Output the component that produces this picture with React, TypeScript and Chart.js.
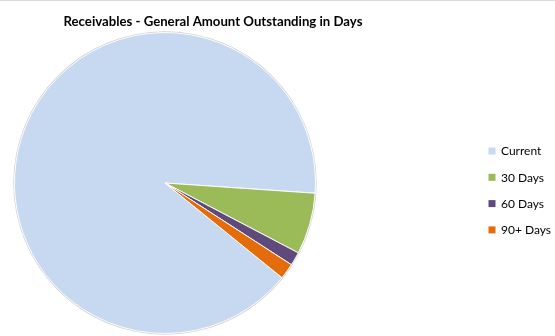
import React, { useEffect, useRef } from "react";
import { Chart, registerables } from "chart.js";

Chart.register(...registerables);

const title = "Receivables - General Amount Outstanding in Days";
const categories = ["Current", "30 Days", "60 Days", "90+ Days"];
const amounts = [90.25, 6.6, 1.45, 1.7];
const colors = ["#C6D9F1", "#9BBB59", "#604A7B", "#E46C0A"];

const FONT = "Lato, Carlito, 'Liberation Sans', sans-serif";

const decorPlugin = {
  id: "decor",
  beforeDatasetsDraw(chart: any) {
    const ctx = chart.ctx;
    const meta = chart.getDatasetMeta(0);
    const arc = meta.data[0];
    if (!arc) return;
    ctx.save();
    ctx.beginPath();
    ctx.arc(arc.x, arc.y, arc.outerRadius + 1.2, 0, Math.PI * 2);
    ctx.fillStyle = "#d0d0d0";
    ctx.fill();
    ctx.restore();
  },
  afterDraw(chart: any) {
    const ctx = chart.ctx;
    ctx.save();
    // top frame line
    ctx.fillStyle = "#d9d9d9";
    ctx.fillRect(0, 0, chart.width, 1);
    // title
    ctx.fillStyle = "#000";
    ctx.font = `bold 13.2px ${FONT}`;
    ctx.textAlign = "center";
    ctx.textBaseline = "middle";
    ctx.fillText(title, 213, 22);
    // legend
    ctx.font = `12px ${FONT}`;
    ctx.textAlign = "left";
    categories.forEach((c, i) => {
      const y = 151 + i * 26.3;
      ctx.fillStyle = colors[i];
      ctx.fillRect(488.5, y - 3.5, 7, 7);
      ctx.fillStyle = "#000";
      ctx.fillText(c, 501, y + 0.5);
    });
    ctx.restore();
  },
};

export default function App() {
  const ref = useRef<HTMLCanvasElement | null>(null);
  useEffect(() => {
    document.body.style.margin = "0";
    const chart = new Chart(ref.current as HTMLCanvasElement, {
      type: "pie",
      data: {
        labels: categories,
        datasets: [
          {
            data: amounts,
            backgroundColor: colors,
            borderColor: "#ffffff",
            borderWidth: 1,
          },
        ],
      },
      options: {
        animation: false,
        responsive: false,
        rotation: 129,
        layout: { padding: { left: 14, right: 239, top: 32, bottom: 2 } },
        plugins: {
          legend: { display: false },
          title: { display: false },
          tooltip: { enabled: false },
        },
      },
      plugins: [decorPlugin],
    });
    return () => chart.destroy();
  }, []);
  return (
    <div style={{ width: 555, height: 336, background: "#fff" }}>
      <canvas ref={ref} width={555} height={336} />
    </div>
  );
}
